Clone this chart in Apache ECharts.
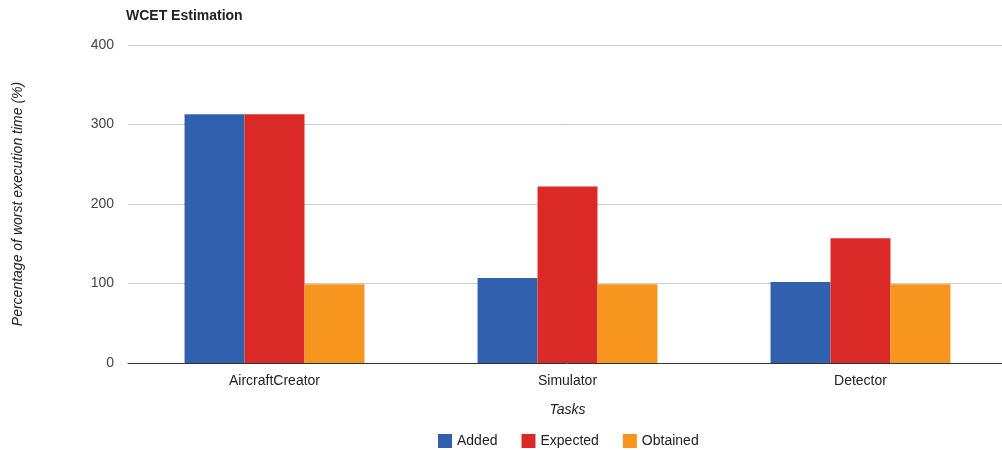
<!DOCTYPE html>
<html>
<head>
<meta charset="utf-8">
<script src="https://cdn.jsdelivr.net/npm/echarts@6/dist/echarts.min.js"></script>
<style>
html,body{margin:0;padding:0;background:#fff;overflow:hidden;}
#chart{width:1010px;height:450px;}
</style>
</head>
<body>
<div id="chart"></div>
<script>
const categories = ['AircraftCreator', 'Simulator', 'Detector'];
const added = [313, 107, 102];
const expected = [313, 222, 157];
const obtained = [99, 99, 99];
const yTicks = [0, 100, 200, 300, 400];

const FONT = '"Liberation Sans", Arial, sans-serif';
const chart = echarts.init(document.getElementById('chart'), null, {renderer: 'canvas'});
chart.setOption({
  animation: false,
  textStyle: {fontFamily: FONT},
  title: {
    text: 'WCET Estimation',
    left: 126, top: 9, padding: 0,
    textStyle: {fontFamily: FONT, fontSize: 14, fontWeight: 'bold', color: '#222'}
  },
  legend: {
    top: 434, left: 438, padding: 0,
    icon: 'rect', itemWidth: 14, itemHeight: 14, itemGap: 24,
    textStyle: {fontFamily: FONT, fontSize: 14, color: '#222'},
    data: ['Added', 'Expected', 'Obtained']
  },
  grid: {left: 128, top: 45, width: 879, height: 318, containLabel: false},
  xAxis: {
    type: 'category',
    data: categories,
    name: 'Tasks', nameLocation: 'middle', nameGap: 40,
    nameTextStyle: {fontFamily: FONT, fontSize: 14, fontStyle: 'italic', color: '#222'},
    axisLine: {lineStyle: {color: '#333', width: 1}},
    axisTick: {show: false},
    axisLabel: {fontFamily: FONT, fontSize: 14, color: '#222', margin: 11}
  },
  yAxis: {
    type: 'value', min: yTicks[0], max: yTicks[yTicks.length - 1], interval: 100,
    name: 'Percentage of worst execution time (%)', nameLocation: 'middle', nameGap: 103,
    nameTextStyle: {fontFamily: FONT, fontSize: 14, fontStyle: 'italic', color: '#222'},
    axisLine: {show: false},
    axisTick: {show: false},
    axisLabel: {fontFamily: FONT, fontSize: 14, color: '#444', margin: 14},
    splitLine: {lineStyle: {color: '#ccc', width: 1}}
  },
  series: [
    {name: 'Added', type: 'bar', data: added, itemStyle: {color: '#3160AE'}, barGap: '0%', barCategoryGap: '38.6%'},
    {name: 'Expected', type: 'bar', data: expected, itemStyle: {color: '#DA2926'}, barGap: '0%', barCategoryGap: '38.6%'},
    {name: 'Obtained', type: 'bar', data: obtained, itemStyle: {color: '#F7951E'}, barGap: '0%', barCategoryGap: '38.6%'}
  ]
});
</script>
</body>
</html>
